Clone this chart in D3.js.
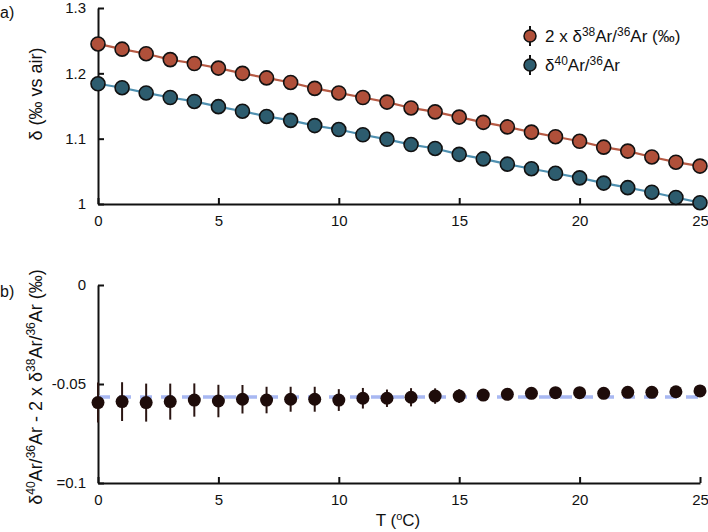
<!DOCTYPE html>
<html>
  <head>
    <meta charset="utf-8">
    <script src="https://cdn.jsdelivr.net/npm/d3@7"></script>
    <style type="text/css">
      body { margin: 0; background: #fff; }
      svg text { font-family: "Liberation Sans", Arial, sans-serif; fill: #111; }
      .axis path, .axis line { fill: none; stroke: #111; stroke-width: 2; }
      .axis text { font-size: 15px; }
    </style>
  </head>
  <body>
    <div class="plot_canvas"></div>
    <script>
      // temperature (degC)
      var temps = d3.range(0, 26);
      // 2 x d38Ar/36Ar (permil)
      var d38x2 = [1.245, 1.237, 1.230, 1.221, 1.215, 1.208, 1.200, 1.193, 1.186, 1.177,
                   1.170, 1.163, 1.156, 1.147, 1.141, 1.133, 1.125, 1.118, 1.110, 1.103,
                   1.096, 1.087, 1.081, 1.072, 1.064, 1.058];
      // d40Ar/36Ar (permil)
      var d40 = [1.184, 1.178, 1.170, 1.163, 1.157, 1.149, 1.142, 1.134, 1.128, 1.120,
                 1.114, 1.106, 1.099, 1.091, 1.085, 1.076, 1.069, 1.061, 1.054, 1.047,
                 1.040, 1.032, 1.025, 1.018, 1.010, 1.002];
      // d40 - 2 x d38 and its error
      var diff = [-0.0594, -0.0589, -0.0594, -0.0589, -0.0581, -0.0586, -0.0577, -0.0581, -0.0577, -0.0577,
                  -0.0581, -0.0572, -0.0572, -0.0567, -0.0561, -0.0561, -0.0556, -0.0552, -0.0547, -0.0544,
                  -0.0544, -0.0547, -0.0542, -0.0542, -0.0539, -0.0535];
      var diffErr = [0.0101, 0.0098, 0.0096, 0.0091, 0.0084, 0.0082, 0.0072, 0.0067, 0.0063, 0.0063,
                     0.0055, 0.0052, 0.0044, 0.0046, 0.0039, 0.0035, 0.0030, 0.0028, 0.0025, 0.0023,
                     0.0021, 0.0020, 0.0018, 0.0017, 0.0016, 0.0015];
      var diffMean = -0.0566;

      var xTicks = [0, 5, 10, 15, 20, 25];
      var yTicksA = [1, 1.1, 1.2, 1.3];
      var yTickLabelsA = ["1", "1.1", "1.2", "1.3"];
      var yTicksB = [-0.1, -0.05, 0];
      var yTickLabelsB = ["=0.1", "-0.05", "0"];

      var col_red = "#b0503a";
      var col_red_line = "#b65a44";
      var col_blue = "#2d5c6e";
      var col_blue_line = "#4f90b0";
      var col_dark = "#1e0c0a";
      var col_dash = "#a8b8f2";

      var width = 708, height = 532;

      var svg = d3.select(".plot_canvas").append("svg")
        .attr("width", width)
        .attr("height", height);

      var xScale = d3.scaleLinear().domain([0, 25]).range([98, 700]);
      var yA = d3.scaleLinear().domain([1, 1.3]).range([204, 8]);
      var yB = d3.scaleLinear().domain([-0.1, 0]).range([483, 285]);

      function drawAxes(yScale, yTicks, yLabels, y0) {
        var gx = svg.append("g")
          .attr("class", "axis")
          .attr("transform", "translate(0," + y0 + ")")
          .call(d3.axisBottom(xScale).tickValues(xTicks).tickSizeInner(-6).tickSizeOuter(0).tickPadding(11));
        gx.selectAll("line").attr("stroke-width", 1.2);
        var gy = svg.append("g")
          .attr("class", "axis")
          .attr("transform", "translate(98,0)")
          .call(d3.axisLeft(yScale).tickValues(yTicks).tickSizeInner(-6).tickSizeOuter(0).tickPadding(12)
            .tickFormat(function (d, i) { return yLabels[i]; }));
        gy.selectAll("line").attr("stroke-width", 1.2);
      }

      // text with superscripts: parts = [text, isSuper]
      function richText(sel, parts, size, supSize) {
        var shift = Math.round(size * 0.38);
        var raised = false;
        parts.forEach(function (p) {
          var dy = 0;
          if (p[1] && !raised) { dy = -shift; raised = true; }
          else if (!p[1] && raised) { dy = shift; raised = false; }
          sel.append("tspan")
            .attr("font-size", p[1] ? supSize : size)
            .attr("dy", dy)
            .text(p[0]);
        });
      }

      // ---- panel a ----
      drawAxes(yA, yTicksA, yTickLabelsA, 204);

      var line = d3.line()
        .x(function (d) { return xScale(d[0]); })
        .y(function (d) { return yA(d[1]); });

      var seriesA = [
        { vals: d38x2, fill: col_red, stroke: col_red_line },
        { vals: d40, fill: col_blue, stroke: col_blue_line }
      ];

      seriesA.forEach(function (s) {
        var pts = temps.map(function (t, i) { return [t, s.vals[i]]; });
        svg.append("path")
          .attr("d", line(pts))
          .attr("fill", "none")
          .attr("stroke", s.stroke)
          .attr("stroke-width", 2.2);
        svg.append("g").selectAll("circle")
          .data(pts).enter()
          .append("circle")
          .attr("cx", function (d) { return xScale(d[0]); })
          .attr("cy", function (d) { return yA(d[1]); })
          .attr("r", 7)
          .attr("fill", s.fill)
          .attr("stroke", "#111")
          .attr("stroke-width", 1.6);
      });

      // legend
      var legend = [
        { fill: col_red, parts: [["2 x δ", 0], ["38", 1], ["Ar/", 0], ["36", 1], ["Ar (‰)", 0]] },
        { fill: col_blue, parts: [["δ", 0], ["40", 1], ["Ar/", 0], ["36", 1], ["Ar", 0]] }
      ];
      legend.forEach(function (l, i) {
        var cy = 36 + i * 29;
        svg.append("line")
          .attr("x1", 530).attr("x2", 530)
          .attr("y1", cy - 10).attr("y2", cy + 10)
          .attr("stroke", "#111").attr("stroke-width", 2);
        svg.append("circle")
          .attr("cx", 530).attr("cy", cy).attr("r", 6)
          .attr("fill", l.fill).attr("stroke", "#111").attr("stroke-width", 1.5);
        var t = svg.append("text")
          .attr("x", 545).attr("y", cy + 6);
        richText(t, l.parts, 17, 12);
      });

      // ---- panel b ----
      drawAxes(yB, yTicksB, yTickLabelsB, 483);

      svg.append("line")
        .attr("x1", xScale(0)).attr("x2", xScale(25))
        .attr("y1", yB(diffMean)).attr("y2", yB(diffMean))
        .attr("stroke", col_dash)
        .attr("stroke-width", 3.5)
        .attr("stroke-dasharray", "12,9");

      svg.append("g").selectAll("line")
        .data(temps).enter()
        .append("line")
        .attr("x1", function (d) { return xScale(d); })
        .attr("x2", function (d) { return xScale(d); })
        .attr("y1", function (d, i) { return yB(diff[i] + diffErr[i]); })
        .attr("y2", function (d, i) { return yB(diff[i] - diffErr[i]); })
        .attr("stroke", "#2a1512")
        .attr("stroke-width", 2);

      svg.append("g").selectAll("circle")
        .data(temps).enter()
        .append("circle")
        .attr("cx", function (d) { return xScale(d); })
        .attr("cy", function (d, i) { return yB(diff[i]); })
        .attr("r", 6.5)
        .attr("fill", col_dark);

      // ---- labels ----
      svg.append("text").attr("x", 0).attr("y", 18).attr("font-size", 16).text("a)");
      svg.append("text").attr("x", 0).attr("y", 297).attr("font-size", 16).text("b)");

      svg.append("text")
        .attr("transform", "translate(42,94) rotate(-90)")
        .attr("text-anchor", "middle")
        .attr("font-size", 18)
        .text("δ (‰ vs air)");

      var yl = svg.append("text")
        .attr("transform", "translate(42,387) rotate(-90)")
        .attr("text-anchor", "middle");
      richText(yl, [["δ", 0], ["40", 1], ["Ar/", 0], ["36", 1], ["Ar - 2 x δ", 0], ["38", 1], ["Ar/", 0], ["36", 1], ["Ar (‰)", 0]], 18, 12);

      var xl = svg.append("text")
        .attr("x", 398).attr("y", 526)
        .attr("text-anchor", "middle");
      richText(xl, [["T (", 0], ["o", 1], ["C)", 0]], 17, 11);
    </script>
  </body>
</html>
